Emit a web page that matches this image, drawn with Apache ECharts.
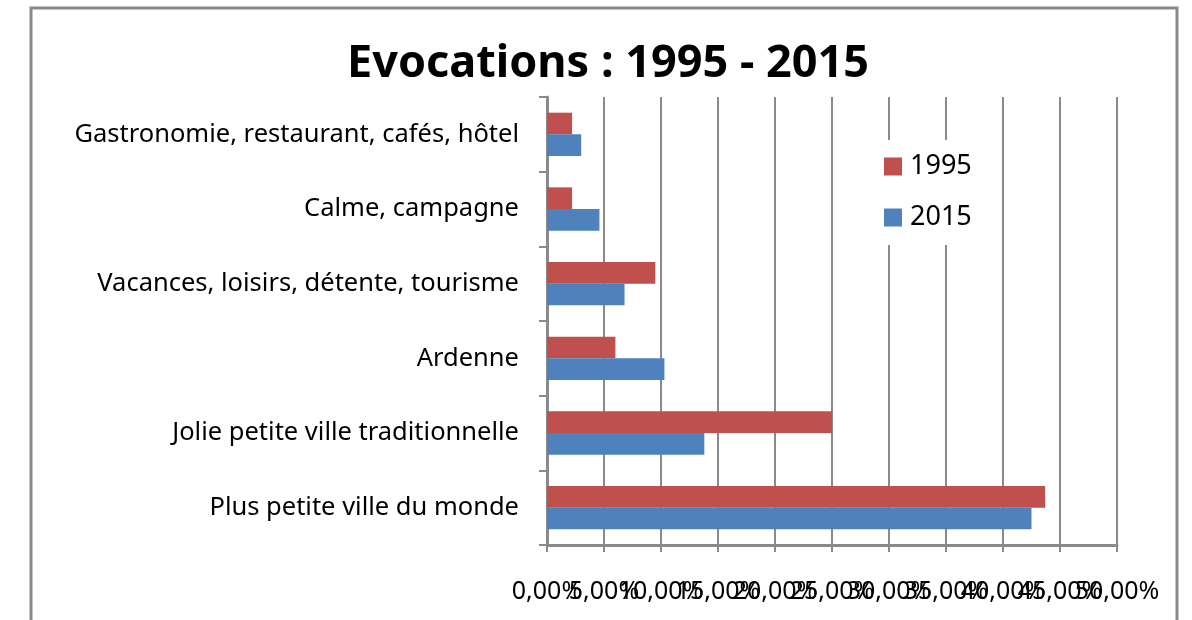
<!DOCTYPE html>
<html>
<head>
<meta charset="utf-8">
<title>Evocations : 1995 - 2015</title>
<script src="https://cdn.jsdelivr.net/npm/echarts@6/dist/echarts.min.js"></script>
<style>
  html, body { margin: 0; padding: 0; background: #fff; }
  #chart { width: 1192px; height: 620px; }
</style>
</head>
<body>
<div id="chart"></div>
<script>
// categories listed bottom to top, as the category axis draws them
const categories = [
  "Plus petite ville du monde",
  "Jolie petite ville traditionnelle",
  "Ardenne",
  "Vacances, loisirs, détente, tourisme",
  "Calme, campagne",
  "Gastronomie, restaurant, cafés, hôtel"
];
const values1995 = [43.7, 25.0, 6.0, 9.5, 2.2, 2.2];
const values2015 = [42.5, 13.8, 10.3, 6.8, 4.6, 3.0];
const seriesNames = ["1995", "2015"];
// the x labels overlap in the original; split over two axes so none gets hidden
const tickLabelsEven = [0, 10, 20, 30, 40, 50];
const tickLabelsOdd = [5, 15, 25, 35, 45];

const FONT = "'Noto Sans', sans-serif";
const AXIS_GRAY = "#8a8a8a";

const chart = echarts.init(document.getElementById("chart"), null, { renderer: "canvas" });

const pct = v => v.toFixed(2).replace(".", ",") + "%";
const labelStyle = {
  margin: 34,
  fontFamily: FONT,
  fontSize: 25,
  color: "#000",
  formatter: pct
};

chart.setOption({
  animation: false,
  title: {
    text: "Evocations : 1995 - 2015",
    left: 603,
    textAlign: "center",
    top: 37,
    textStyle: { fontFamily: FONT, fontWeight: "bold", fontSize: 45, color: "#000" }
  },
  graphic: [{
    type: "rect",
    shape: { x: 31, y: 8, width: 1146, height: 660 },
    style: { fill: "none", stroke: AXIS_GRAY, lineWidth: 3 },
    silent: true
  }],
  legend: {
    orient: "vertical",
    left: 870,
    top: 140,
    padding: [13, 16, 14, 14],
    backgroundColor: "#fff",
    itemWidth: 18,
    itemHeight: 18,
    itemGap: 24,
    icon: "rect",
    data: seriesNames,
    textStyle: { fontFamily: FONT, fontSize: 27, color: "#000", padding: [0, 0, 0, 3] }
  },
  grid: { left: 547, right: 75, top: 97, bottom: 75 },
  xAxis: [
    {
      type: "value",
      position: "bottom",
      min: 0,
      max: 50,
      interval: 5,
      axisLine: { show: true, lineStyle: { color: AXIS_GRAY, width: 3 } },
      axisTick: { show: true, length: 7, lineStyle: { color: AXIS_GRAY, width: 2 } },
      splitLine: { show: true, lineStyle: { color: AXIS_GRAY, width: 2 } },
      axisLabel: Object.assign({ customValues: tickLabelsEven }, labelStyle)
    },
    {
      type: "value",
      position: "bottom",
      offset: 0,
      min: 0,
      max: 50,
      interval: 5,
      axisLine: { show: false },
      axisTick: { show: false },
      splitLine: { show: false },
      axisLabel: Object.assign({ customValues: tickLabelsOdd }, labelStyle)
    }
  ],
  yAxis: {
    type: "category",
    data: categories,
    axisLine: { show: true, lineStyle: { color: AXIS_GRAY, width: 3 } },
    axisTick: { show: true, length: 8, lineStyle: { color: AXIS_GRAY, width: 2 } },
    axisLabel: {
      margin: 28,
      fontFamily: FONT,
      fontSize: 25.5,
      color: "#000"
    }
  },
  series: [
    {
      name: "1995",
      type: "bar",
      data: values1995,
      barGap: "0%",
      barCategoryGap: "42%",
      itemStyle: { color: "#C0504D" }
    },
    {
      name: "2015",
      type: "bar",
      data: values2015,
      itemStyle: { color: "#4F81BD" }
    }
  ]
});
</script>
</body>
</html>
